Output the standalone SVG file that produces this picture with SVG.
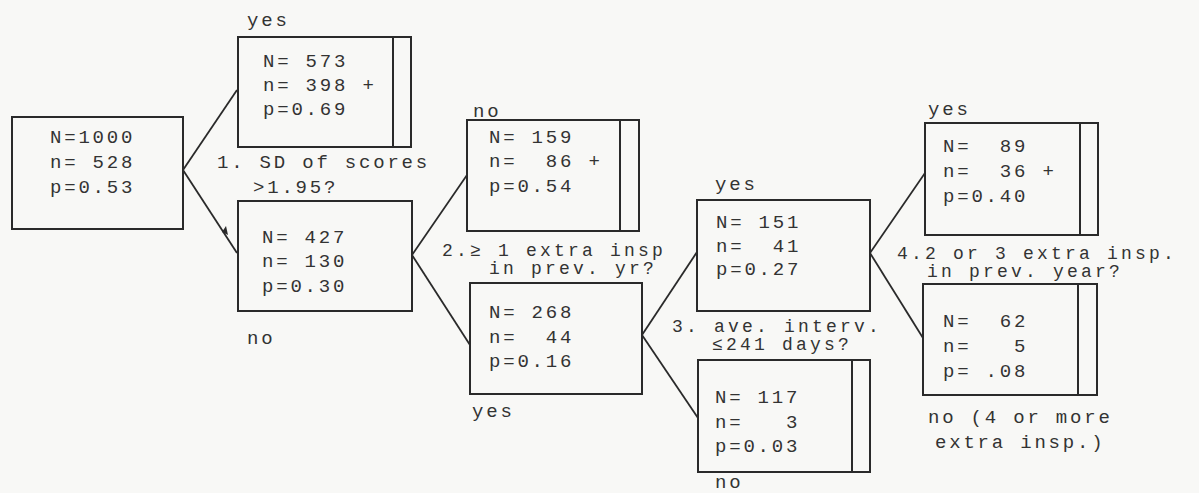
<svg xmlns="http://www.w3.org/2000/svg" width="1199" height="493" viewBox="0 0 1199 493" xml:space="preserve">
<style>
.bg{fill:#f8f8f6}
.box{fill:none;stroke:#2a2a2a;stroke-width:2}
.div{stroke:#2a2a2a;stroke-width:2}
.ln{stroke:#2a2a2a;stroke-width:1.8;fill:none}
text{font-family:"Liberation Mono","Courier New",monospace;font-size:19px;letter-spacing:2.8px;fill:#333;white-space:pre}
.q{font-size:18px;letter-spacing:3.2px}
</style>
<rect class="bg" x="0" y="0" width="1199" height="493"/>
<g id="connectors">
<line class="ln" x1="183" y1="170" x2="237" y2="90"/>
<line class="ln" x1="183" y1="170" x2="237" y2="253"/>
<polygon points="226,226 228,235 222,232" fill="#2a2a2a"/>
<line class="ln" x1="412" y1="255" x2="467" y2="175"/>
<line class="ln" x1="412" y1="255" x2="470" y2="345"/>
<line class="ln" x1="642" y1="335" x2="697" y2="252"/>
<line class="ln" x1="642" y1="335" x2="698" y2="418"/>
<line class="ln" x1="870" y1="253" x2="925" y2="173"/>
<line class="ln" x1="870" y1="253" x2="923" y2="338"/>
</g>
<g id="labels">
<text x="217" y="168">1. SD of scores</text>
<text x="253" y="193">&gt;1.95?</text>
<text class="q" x="442" y="256">2.≥ 1 extra insp</text>
<text class="q" x="489" y="274">in prev. yr?</text>
<text class="q" x="672" y="332">3. ave. interv.</text>
<text class="q" x="712" y="350">≤241 days?</text>
<text class="q" x="897" y="259">4.2 or 3 extra insp.</text>
<text class="q" x="927" y="277">in prev. year?</text>
</g>
<g id="root">
<rect class="box" x="12" y="117" width="171" height="112"/>
<text x="50" y="143">N=1000</text>
<text x="50" y="168">n= 528</text>
<text x="50" y="193">p=0.53</text>
</g>
<g id="node573">
<text x="247" y="26">yes</text>
<rect class="box" x="238" y="37" width="173" height="110"/>
<line class="div" x1="393" y1="37" x2="393" y2="147"/>
<text x="263" y="67">N= 573</text>
<text x="263" y="91">n= 398 +</text>
<text x="263" y="115">p=0.69</text>
</g>
<g id="node427">
<rect class="box" x="238" y="201" width="174" height="110"/>
<text x="262" y="243">N= 427</text>
<text x="262" y="267">n= 130</text>
<text x="262" y="292">p=0.30</text>
<text x="247" y="344">no</text>
</g>
<g id="node159">
<text x="473" y="117">no</text>
<rect class="box" x="467" y="120" width="172" height="111"/>
<line class="div" x1="620" y1="120" x2="620" y2="231"/>
<text x="489" y="143">N= 159</text>
<text x="489" y="167">n=  86 +</text>
<text x="489" y="192">p=0.54</text>
</g>
<g id="node268">
<rect class="box" x="470" y="283" width="172" height="111"/>
<text x="489" y="318">N= 268</text>
<text x="489" y="343">n=  44</text>
<text x="489" y="367">p=0.16</text>
<text x="472" y="417">yes</text>
</g>
<g id="node151">
<text x="715" y="190">yes</text>
<rect class="box" x="697" y="200" width="173" height="111"/>
<text x="716" y="228">N= 151</text>
<text x="716" y="252">n=  41</text>
<text x="716" y="275">p=0.27</text>
</g>
<g id="node117">
<rect class="box" x="698" y="360" width="172" height="112"/>
<line class="div" x1="852" y1="360" x2="852" y2="472"/>
<text x="715" y="403">N= 117</text>
<text x="715" y="428">n=   3</text>
<text x="715" y="452">p=0.03</text>
<text x="715" y="488">no</text>
</g>
<g id="node89">
<text x="928" y="115">yes</text>
<rect class="box" x="925" y="123" width="173" height="112"/>
<line class="div" x1="1080" y1="123" x2="1080" y2="235"/>
<text x="943" y="152">N=  89</text>
<text x="943" y="177">n=  36 +</text>
<text x="943" y="202">p=0.40</text>
</g>
<g id="node62">
<rect class="box" x="923" y="284" width="174" height="111"/>
<line class="div" x1="1078" y1="284" x2="1078" y2="395"/>
<text x="943" y="327">N=  62</text>
<text x="943" y="352">n=   5</text>
<text x="943" y="377">p= .08</text>
<text x="928" y="423">no (4 or more</text>
<text x="935" y="448">extra insp.)</text>
</g>
</svg>
